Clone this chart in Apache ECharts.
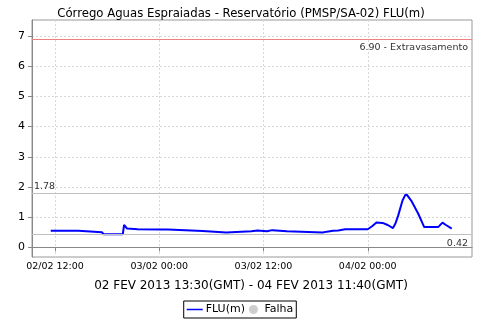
<!DOCTYPE html>
<html>
<head>
<meta charset="utf-8">
<script src="https://cdn.jsdelivr.net/npm/echarts@6/dist/echarts.min.js"></script>
<style>
  html, body { margin: 0; padding: 0; background: #fff; }
  #chart { width: 480px; height: 320px; }
</style>
</head>
<body>
<div id="chart"></div>
<script>
// hours counted from 02/02 00:00 (local time on the axis)
const hours = [11.5, 14.7, 14.8, 17.4, 17.6, 19.8, 19.95, 20.3, 21.5, 24.0, 24.1, 24.5, 25.0, 25.1,
    29.0, 29.2, 31.7, 31.9, 34.6, 34.8, 35.3, 35.5, 36.4, 36.6, 37.0, 37.2, 38.7, 38.9, 42.8, 43.3,
    44.0, 44.6, 45.4, 48.0, 48.5, 49.0, 49.7, 50.3, 50.9, 51.2, 51.5, 52.0, 52.4, 53.0, 53.8, 54.5,
    56.1, 56.6, 57.0, 57.67];
const flu = [0.55, 0.55, 0.50, 0.50, 0.43, 0.43, 0.74, 0.62, 0.60, 0.59, 0.61, 0.59, 0.59, 0.54,
    0.54, 0.49, 0.49, 0.53, 0.53, 0.57, 0.56, 0.53, 0.53, 0.58, 0.57, 0.53, 0.53, 0.49, 0.49, 0.52,
    0.55, 0.56, 0.60, 0.60, 0.70, 0.82, 0.81, 0.74, 0.64, 0.80, 1.05, 1.55, 1.78, 1.55, 1.12, 0.67,
    0.67, 0.82, 0.74, 0.62];
const xTicks = [12, 24, 36, 48];
const xTickLabels = ['02/02 12:00', '03/02 00:00', '03/02 12:00', '04/02 00:00'];
const yTicks = [0, 1, 2, 3, 4, 5, 6, 7];
const extravasamento = 6.90;
const maxVal = 1.78;
const minVal = 0.42;

const chart = echarts.init(document.getElementById('chart'));
chart.setOption({
    animation: false,
    textStyle: {fontFamily: 'DejaVu Sans'},
    title: [
        {
            text: 'Córrego Aguas Espraiadas - Reservatório (PMSP/SA-02) FLU(m)',
            left: 236, top: 3, textAlign: 'center',
            textStyle: {fontSize: 11.7, fontWeight: 'normal', color: '#000'}
        },
        {
            text: '02 FEV 2013 13:30(GMT) - 04 FEV 2013 11:40(GMT)',
            left: 246, top: 275, textAlign: 'center',
            textStyle: {fontSize: 12, fontWeight: 'normal', color: '#000'}
        }
    ],
    legend: {
        bottom: 2, left: 'center',
        borderColor: '#000', borderWidth: 1, borderRadius: 0,
        padding: [3, 3], itemGap: 4, itemWidth: 16, itemHeight: 9,
        textStyle: {fontSize: 11, color: '#000', padding: [0, 0, 0, -2]},
        data: [
            {name: 'FLU(m)', icon: 'path://M0,4L16,4L16,5.5L0,5.5Z'},
            {name: 'Falha', icon: 'circle'}
        ]
    },
    grid: {left: 32, right: 8, top: 20, bottom: 63, show: true, borderColor: '#999', borderWidth: 1},
    xAxis: {
        type: 'value', min: 9.35, max: 60.0,
        axisLine: {lineStyle: {color: '#888'}},
        axisTick: {customValues: xTicks, length: 4, lineStyle: {color: '#888'}},
        axisLabel: {
            customValues: xTicks, fontSize: 9.5, color: '#000', margin: 5,
            formatter: v => xTickLabels[xTicks.indexOf(v)]
        },
        splitLine: {show: true, lineStyle: {color: '#d8d8d8', type: [2, 2]}}
    },
    yAxis: {
        type: 'value', min: -0.32, max: 7.53,
        axisLine: {show: true, lineStyle: {color: '#888'}},
        axisTick: {show: true, customValues: yTicks, length: 4, lineStyle: {color: '#888'}},
        axisLabel: {customValues: yTicks, fontSize: 11, color: '#000', margin: 7},
        splitLine: {show: true, lineStyle: {color: '#d8d8d8', type: [2, 2]}}
    },
    series: [
        {
            name: 'FLU(m)', type: 'line', symbol: 'none',
            data: hours.map((h, i) => [h, flu[i]]),
            lineStyle: {color: '#0000ff', width: 2},
            itemStyle: {color: '#0000ff'},
            markLine: {
                symbol: 'none', silent: true, animation: false,
                label: {fontSize: 9.5, color: '#333', fontFamily: 'DejaVu Sans'},
                data: [
                    {yAxis: extravasamento, lineStyle: {color: '#f08080', type: 'solid', width: 1},
                     label: {position: 'insideEndBottom', formatter: '6.90 - Extravasamento', distance: [4, 4]}},
                    {yAxis: maxVal, lineStyle: {color: '#c0c0c0', type: 'solid', width: 1},
                     label: {position: 'insideStartTop', formatter: '1.78', distance: [2, 2]}},
                    {yAxis: minVal, lineStyle: {color: '#c0c0c0', type: 'solid', width: 1},
                     label: {position: 'insideEndBottom', formatter: '0.42', distance: [4, 4]}}
                ]
            }
        },
        {
            name: 'Falha', type: 'scatter', data: [],
            itemStyle: {color: '#c0c0c0'}
        }
    ]
});
</script>
</body>
</html>
